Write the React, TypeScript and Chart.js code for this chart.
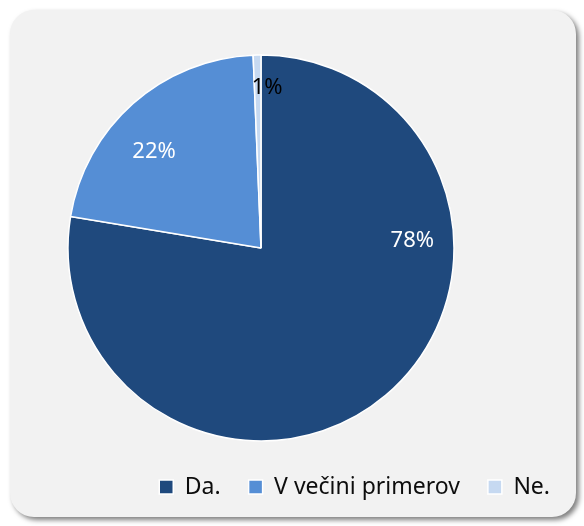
import React, { useEffect, useRef } from "react";
import { Chart, registerables } from "chart.js";

Chart.register(...registerables);

const categories = ["Da.", "V večini primerov", "Ne."];
const values = [77.6, 21.75, 0.65];
const colors = ["#1F497D", "#558ED5", "#C6D9F1"];
const labelColors = ["#FFFFFF", "#FFFFFF", "#000000"];
// label placement: angle clockwise from 12 o'clock (deg), fraction of radius
const labelAngles = [86.8, 312.6, 2.2];
const labelRadii = [0.785, 0.753, 0.839];

const FONT = "'Noto Sans', 'DejaVu Sans', sans-serif";

const pieLabels = {
  id: "pieLabels",
  afterDatasetsDraw(chart: any) {
    const meta = chart.getDatasetMeta(0);
    const ds = chart.data.datasets[0].data as number[];
    const total = ds.reduce((a, b) => a + b, 0);
    const ctx = chart.ctx;
    ctx.save();
    ctx.font = `22px ${FONT}`;
    ctx.textAlign = "center";
    ctx.textBaseline = "alphabetic";
    meta.data.forEach((arc: any, i: number) => {
      const { x, y, outerRadius } = arc.getProps(["x", "y", "outerRadius"], true);
      const a = (labelAngles[i] * Math.PI) / 180;
      const r = outerRadius * labelRadii[i];
      const px = x + r * Math.sin(a);
      const py = y - r * Math.cos(a);
      ctx.fillStyle = labelColors[i];
      ctx.fillText(Math.round((ds[i] / total) * 100) + "%", px, py + 7.9);
    });
    ctx.restore();
  },
};

export default function App() {
  const ref = useRef<HTMLCanvasElement | null>(null);
  useEffect(() => {
    if (!ref.current) return;
    const chart = new Chart(ref.current, {
      type: "pie",
      data: {
        labels: categories,
        datasets: [
          {
            data: values,
            backgroundColor: colors,
            borderColor: "#FFFFFF",
            borderWidth: 1.5,
            radius: 193,
          } as any,
        ],
      },
      options: {
        animation: false,
        responsive: false,
        maintainAspectRatio: false,
        layout: { padding: { top: 38.5, bottom: 8.5, left: 0, right: 0 } },
        plugins: {
          tooltip: { enabled: false },
          legend: {
            position: "bottom",
            align: "end",
            labels: {
              boxWidth: 14,
              boxHeight: 14,
              padding: 28,
              color: "#0D0D0D",
              font: { family: FONT, size: 23 },
            },
          },
        },
      },
      plugins: [pieLabels],
    });
    return () => chart.destroy();
  }, []);

  return (
    <div>
      <div
        style={{
          position: "absolute",
          left: 10,
          top: 10,
          width: 566,
          height: 507,
          background: "#F2F2F2",
          borderRadius: 24,
          boxShadow: "3px 3px 5px rgba(0,0,0,0.5)",
        }}
      />
      <canvas
        ref={ref}
        width={634}
        height={507}
        style={{ position: "absolute", left: -56, top: 10, width: 634, height: 507 }}
      />
    </div>
  );
}
